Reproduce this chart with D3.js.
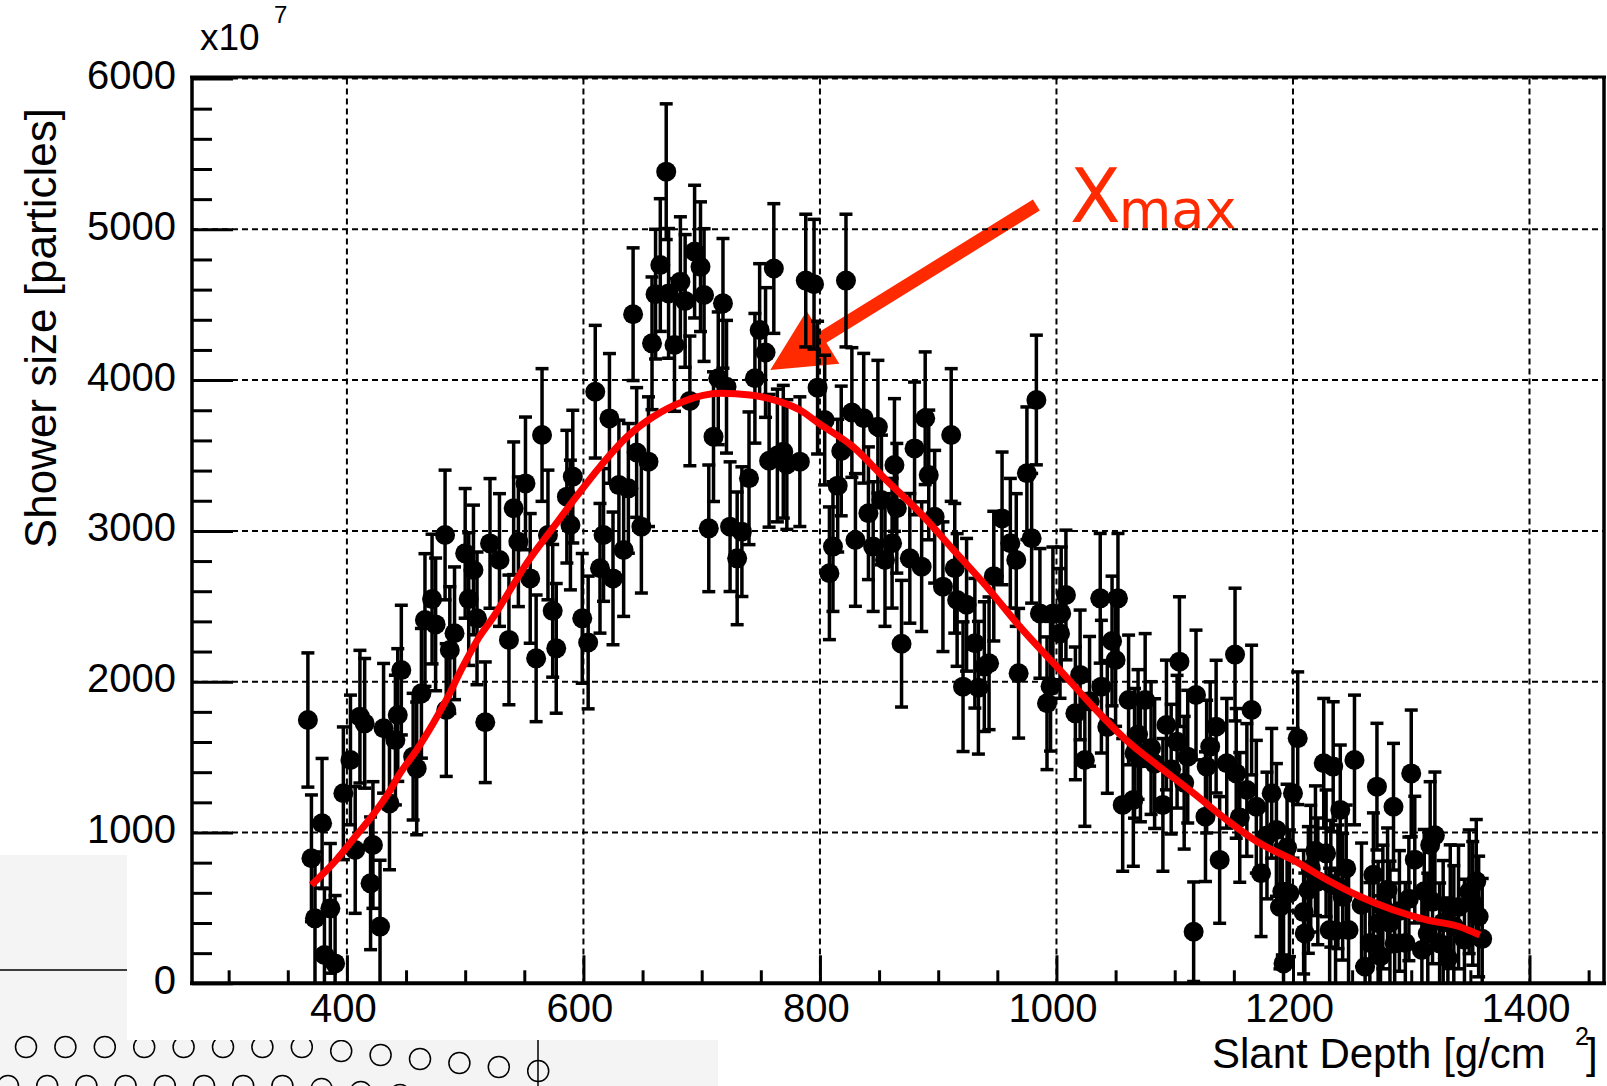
<!DOCTYPE html>
<html>
<head>
<meta charset="utf-8">
<script src="https://cdn.jsdelivr.net/npm/d3@7"></script>
<style>
body { margin: 0; background: #fff; }
svg { display: block; font-family: "Liberation Sans", Arial, Helvetica, sans-serif; }
</style>
</head>
<body>
<svg id="chart" width="1607" height="1086"></svg>
<script>
// slant depth [g/cm2] of each measured point
var depth = [367,370,373,379,381,386,390,397,403,407,411,415,420,422,428,431,436,441,443,446,
  456,459,463,466,472,475,483,484,487,491,500,503,507,510,517,521,529,537,541,545,
  551,555,560,565,570,574,577,586,589,591,599,604,610,614,617,622,625,630,634,638,
  642,645,649,655,658,661,665,670,672,677,682,686,690,694,699,702,706,710,714,718,
  721,724,730,734,740,745,749,754,757,761,769,783,788,795,798,804,808,811,815,818,
  822,827,830,837,841,845,849,852,855,861,863,865,869,876,880,886,889,892,897,904,
  911,914,916,921,924,931,934,939,943,947,954,961,966,968,975,979,983,986,992,995,
  997,1003,1004,1008,1016,1020,1024,1037,1038,1047,1050,1052,1056,1061,1065,1066,1071,1075,1083,1090,
  1093,1102,1104,1111,1116,1118,1126,1127,1130,1135,1138,1144,1151,1152,1161,1165,1169,1173,1182,1186,
  1189,1191,1192,1197,1200,1204,1209,1210,1213,1219,1221,1226,1228,1231,1232,1234,1236,1240,1242,1245,
  1247,1252,1261,1265,1271,1272,1274,1276,1282,1285,1286,1295,1300,1303,1309,1311,1316,1318,1320,1324,
  1327,1331,1333,1340,1349,1352,1355,1357,1360,
  764,772,1028,1043,1069,1080,1097,1108,1155,1178,1195,1215,1238,1258,1268,1280,1290,1298,1314,1336,
  1345];
// shower size (x10^7 particles)
var size = [1746,829,431,1061,188,497,132,1260,1481,884,1768,1724,663,917,376,1691,1193,1613,1779,2077,
  1503,1425,1923,2409,2548,2380,2973,1812,2210,2321,2851,2548,2741,2420,1731,2917,2807,2277,3150,2928,
  3315,2685,2155,3636,2973,2470,2221,3227,3039,3360,2420,2260,3923,2752,2973,3746,2685,3304,2873,3282,
  4437,3520,3028,3459,4244,4570,4763,5382,4575,4233,4653,4525,3862,4852,4752,4564,3017,3625,4012,4509,
  3956,3028,2818,2995,3349,4012,4332,4183,3465,4740,3525,3459,4660,4636,3950,3735,2719,2896,3300,3530,
  4660,3785,2940,3747,3117,2896,3691,3205,2807,2918,3437,3150,2252,2818,3547,2763,3747,3371,3094,2630,
  3636,2752,2542,1967,2510,2255,1960,2100,2122,2700,3083,2918,2807,2056,3382,2951,3868,2453,1857,1970,
  2453,2320,2453,2575,1790,2045,1481,2553,1967,2270,2144,2553,1183,1879,1216,1525,1491,1879,1457,1183,
  1713,1602,2133,1503,342,1912,1105,1437,1569,1702,818,1459,2180,1392,1282,1812,1171,730,1260,1017,
  506,608,132,597,1260,1625,472,331,619,879,676,1459,862,353,660,1437,349,1150,574,762,
  353,1481,110,268,1304,398,180,506,400,1171,265,268,1392,820,221,610,917,540,981,265,
  404,166,508,506,607,530,676,443,295,
  3500,3440,1870,1700,1650,1560,1420,1330,1100,980,900,760,640,520,720,620,480,560,330,380,
  290];
var sizeErr = [445,420,440,430,440,430,450,440,430,420,440,430,440,420,440,430,440,430,440,430,
  420,440,430,440,430,440,430,440,420,440,430,440,430,440,400,430,440,430,440,430,
  440,430,420,440,430,440,430,440,430,440,430,440,440,430,440,430,440,430,440,430,
  440,430,440,430,440,430,440,450,430,440,430,440,430,440,430,440,420,430,440,430,
  440,430,440,430,440,430,440,430,440,430,440,430,440,430,440,430,440,430,440,430,
  440,430,440,430,440,430,440,430,440,430,440,430,420,430,440,430,440,430,440,430,
  440,430,440,430,440,430,440,430,440,430,440,430,440,430,440,430,430,430,440,430,
  440,430,440,430,440,430,440,430,440,430,440,430,440,430,440,430,420,440,430,440,
  430,440,430,440,330,430,430,440,430,440,420,430,440,430,440,430,440,420,430,440,
  410,420,400,420,430,440,410,400,420,430,420,430,420,410,420,430,400,430,420,420,
  410,430,400,400,420,410,400,410,410,420,400,400,420,420,400,410,420,410,420,400,
  410,400,410,410,410,410,410,400,400,
  440,430,430,440,430,440,430,440,430,420,420,420,410,410,410,410,400,410,400,400,
  400];

// fitted longitudinal profile
var fitDepth = [370,391,407,423,435,445,459,473,484,498,512,524,538,552,575,594,614,637,659,684,
  716,741,766,783,800,828,856,885,913,941,969,1003,1031,1059,1087,1116,1144,1172,1200,1229,
  1257,1285,1313,1341,1358];
var fitSize = [652,818,972,1127,1260,1393,1547,1724,1879,2100,2298,2431,2608,2785,3028,3227,3426,3625,3757,3857,
  3912,3901,3857,3802,3708,3558,3338,3117,2873,2630,2365,2077,1834,1613,1436,1260,1083,928,818,685,
  574,486,420,375,320];

var xTicks = [400, 600, 800, 1000, 1200, 1400];
var yTicks = [0, 1000, 2000, 3000, 4000, 5000, 6000];

// annotation arrow, in data coordinates (tail -> tip)
var arrowTail = [983, 5161];
var arrowTip = [758, 4067];
var annotColor = "#ff2a00";

var svg = d3.select("#chart");
var x = d3.scaleLinear().domain([269, 1463]).range([192, 1604]);
var y = d3.scaleLinear().domain([0, 6000]).range([983.3, 78.5]);

// ---- page background pieces around the pasted plot ----
svg.append("rect").attr("x", 0).attr("y", 855).attr("width", 127).attr("height", 185).attr("fill", "#f4f4f4");
svg.append("rect").attr("x", 0).attr("y", 1040).attr("width", 718).attr("height", 46).attr("fill", "#f4f4f4");
svg.append("line").attr("x1", 0).attr("x2", 127).attr("y1", 970).attr("y2", 970)
  .attr("stroke", "#000").attr("stroke-width", 1.5);

var row1 = d3.range(14).map(function(i){
  return [26 + i * 39.4, 1047 + Math.max(0, i - 7) * 4];
});
var row2 = d3.range(11).map(function(i){
  return [8 + i * 39.2, 1086 + Math.max(0, i - 7) * 3];
});
svg.append("g").selectAll("circle").data(row1.concat(row2)).join("circle")
  .attr("cx", function(d){ return d[0]; })
  .attr("cy", function(d){ return d[1]; })
  .attr("r", 10.5).attr("fill", "none").attr("stroke", "#000").attr("stroke-width", 1.5);
svg.append("line").attr("x1", 538).attr("x2", 538).attr("y1", 1040).attr("y2", 1086)
  .attr("stroke", "#000").attr("stroke-width", 1.5);

// white canvas of the plot
svg.append("rect").attr("x", 127).attr("y", 0).attr("width", 1480).attr("height", 1040).attr("fill", "#fff");
svg.append("rect").attr("x", 0).attr("y", 0).attr("width", 127).attr("height", 855).attr("fill", "#fff");

// ---- annotation (drawn under grid and points) ----
(function(){
  var t0 = [x(arrowTail[0]), y(arrowTail[1])];
  var t1 = [x(arrowTip[0]), y(arrowTip[1])];
  var dx = t1[0] - t0[0], dy = t1[1] - t0[1];
  var len = Math.sqrt(dx * dx + dy * dy);
  var ux = dx / len, uy = dy / len, px = -uy, py = ux;
  var headLen = 62, headHalf = 31, shaftHalf = 6.5;
  var b = [t1[0] - ux * headLen, t1[1] - uy * headLen];
  var pts = [
    [t0[0] + px * shaftHalf, t0[1] + py * shaftHalf],
    [b[0] + px * shaftHalf, b[1] + py * shaftHalf],
    [b[0] + px * headHalf, b[1] + py * headHalf],
    t1,
    [b[0] - px * headHalf, b[1] - py * headHalf],
    [b[0] - px * shaftHalf, b[1] - py * shaftHalf],
    [t0[0] - px * shaftHalf, t0[1] - py * shaftHalf]
  ];
  svg.append("path").attr("d", "M" + pts.join("L") + "Z").attr("fill", annotColor);
})();

var xm = svg.append("text").attr("x", 1070).attr("y", 222)
  .attr("fill", annotColor).attr("font-family", "'DejaVu Sans', sans-serif")
  .attr("font-size", 74).text("X");
xm.append("tspan").attr("dy", 6).attr("font-size", 54).attr("dx", -2).text("max");

// ---- grid ----
var grid = svg.append("g").attr("stroke", "#000").attr("stroke-width", 2).attr("stroke-dasharray", "6,4");
grid.selectAll("line.v").data(xTicks).join("line").attr("class", "v")
  .attr("x1", function(d){ return x(d); }).attr("x2", function(d){ return x(d); })
  .attr("y1", y(6000)).attr("y2", y(0));
grid.selectAll("line.h").data(yTicks.slice(1)).join("line").attr("class", "h")
  .attr("x1", x.range()[0]).attr("x2", x.range()[1])
  .attr("y1", function(d){ return y(d); }).attr("y2", function(d){ return y(d); });

// ---- axes ----
var yMinor = d3.range(0, 6001, 200).filter(function(v){ return v % 1000 !== 0; });
var xMinor = d3.range(300, 1451, 50).filter(function(v){ return v % 200 !== 0; });
var fmt = d3.format("d");

var yAxis = svg.append("g").attr("transform", "translate(" + x.range()[0] + ",0)")
  .call(d3.axisLeft(y).tickValues(yTicks).tickFormat(fmt).tickSizeInner(-41).tickSizeOuter(0).tickPadding(16));
svg.append("g").attr("transform", "translate(" + x.range()[0] + ",0)")
  .call(d3.axisLeft(y).tickValues(yMinor).tickSizeInner(-20).tickSizeOuter(0).tickFormat(""));
var xAxis = svg.append("g").attr("transform", "translate(0," + y(0) + ")")
  .call(d3.axisBottom(x).tickValues(xTicks).tickFormat(fmt).tickSizeInner(-28).tickSizeOuter(0).tickPadding(10));
svg.append("g").attr("transform", "translate(0," + y(0) + ")")
  .call(d3.axisBottom(x).tickValues(xMinor).tickSizeInner(-13).tickSizeOuter(0).tickFormat(""));

svg.selectAll(".domain").remove();
svg.selectAll(".tick line").attr("stroke", "#000").attr("stroke-width", 3);
svg.selectAll(".tick text").attr("fill", "#000").attr("font-size", 40)
  .attr("font-family", "'Liberation Sans', Arial, sans-serif");
yAxis.selectAll(".tick text").attr("dy", "0.25em");
xAxis.selectAll(".tick text").attr("x", -4);

// frame
var frame = svg.append("g").attr("stroke", "#000");
frame.append("line").attr("x1", 192).attr("x2", 192).attr("y1", 76).attr("y2", 985).attr("stroke-width", 3.5);
frame.append("line").attr("x1", 190).attr("x2", 1606).attr("y1", 983.3).attr("y2", 983.3).attr("stroke-width", 4);
frame.append("line").attr("x1", 190).attr("x2", 1606).attr("y1", 77).attr("y2", 77).attr("stroke-width", 3);
frame.append("line").attr("x1", 1604).attr("x2", 1604).attr("y1", 76).attr("y2", 985).attr("stroke-width", 3.5);

// ---- data points with error bars ----
var pts = depth.map(function(d, i){ return {x: d, y: size[i], e: sizeErr[i]}; });
svg.append("clipPath").attr("id", "plotclip").append("rect")
  .attr("x", 192).attr("y", 78).attr("width", 1412).attr("height", 905);
var pg = svg.append("g").attr("clip-path", "url(#plotclip)");
var bars = pg.append("g").attr("stroke", "#000").attr("stroke-width", 3.5);
bars.selectAll("line.bar").data(pts).join("line").attr("class", "bar")
  .attr("x1", function(d){ return x(d.x); }).attr("x2", function(d){ return x(d.x); })
  .attr("y1", function(d){ return y(Math.max(0, d.y - d.e)); })
  .attr("y2", function(d){ return y(d.y + d.e); });
bars.selectAll("line.capHi").data(pts).join("line").attr("class", "capHi")
  .attr("x1", function(d){ return x(d.x) - 6.5; }).attr("x2", function(d){ return x(d.x) + 6.5; })
  .attr("y1", function(d){ return y(d.y + d.e); }).attr("y2", function(d){ return y(d.y + d.e); });
bars.selectAll("line.capLo").data(pts.filter(function(d){ return d.y - d.e > 0; })).join("line").attr("class", "capLo")
  .attr("x1", function(d){ return x(d.x) - 6.5; }).attr("x2", function(d){ return x(d.x) + 6.5; })
  .attr("y1", function(d){ return y(d.y - d.e); }).attr("y2", function(d){ return y(d.y - d.e); });
pg.append("g").selectAll("circle").data(pts).join("circle")
  .attr("cx", function(d){ return x(d.x); })
  .attr("cy", function(d){ return y(d.y); })
  .attr("r", 10).attr("fill", "#000");

// ---- fit curve ----
var fit = fitDepth.map(function(d, i){ return [d, fitSize[i]]; });
svg.append("path").datum(fit)
  .attr("d", d3.line().x(function(d){ return x(d[0]); }).y(function(d){ return y(d[1]); }).curve(d3.curveMonotoneX))
  .attr("fill", "none").attr("stroke", "#ff0000").attr("stroke-width", 7);

// ---- titles ----
svg.append("text").attr("x", 200).attr("y", 50).attr("font-size", 37).text("x10");
svg.append("text").attr("x", 274).attr("y", 23).attr("font-size", 24).text("7");

svg.append("text").attr("transform", "translate(56,108) rotate(-90)")
  .attr("text-anchor", "end").attr("font-size", 44).text("Shower size [particles]");

svg.append("text").attr("x", 1212).attr("y", 1068).attr("font-size", 42).text("Slant Depth [g/cm");
svg.append("text").attr("x", 1575).attr("y", 1045).attr("font-size", 25).text("2");
svg.append("text").attr("x", 1586).attr("y", 1068).attr("font-size", 42).text("]");
</script>
</body>
</html>
